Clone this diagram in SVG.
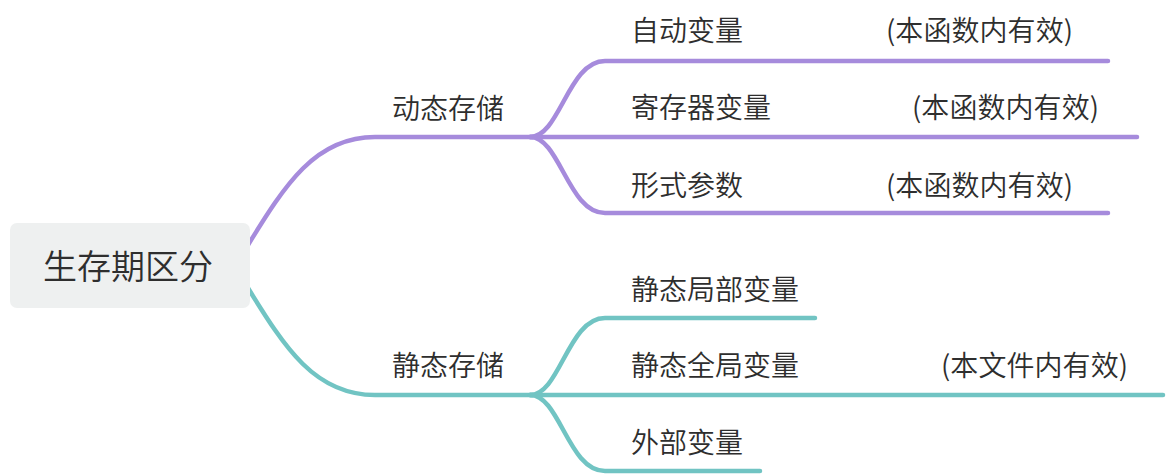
<svg xmlns="http://www.w3.org/2000/svg" width="1172" height="476" viewBox="0 0 1172 476">
<style>
.t{font-family:"Noto Sans CJK SC","Noto Sans",sans-serif;fill:#2e2e2e;font-size:28px;font-weight:350}
.root{font-size:34px}
.p{fill:none;stroke:#a68bdc;stroke-width:4.5;stroke-linecap:round}
.g{fill:none;stroke:#71c4c3;stroke-width:4.5;stroke-linecap:round}
</style>
<rect width="1172" height="476" fill="#ffffff"/>
<g id="connectors">
<path class="p" d="M248,245 C285,185 315,137 375,137 L533,137"/>
<path class="p" d="M530,137 C560,137 568,61 605,61 L1108,61"/>
<path class="p" d="M530,137 L1137,137"/>
<path class="p" d="M530,137 C560,137 568,213 605,213 L1108,213"/>
<path class="g" d="M248,288 C285,348 315,395 375,395 L533,395"/>
<path class="g" d="M530,395 C560,395 568,318 605,318 L815,318"/>
<path class="g" d="M530,395 L1163,395"/>
<path class="g" d="M530,395 C560,395 568,471 605,471 L760,471"/>
</g>
<g id="root">
<rect x="10" y="223" width="240" height="85" rx="7" fill="#eef0f0"/>
<text class="t root" x="128" y="279" text-anchor="middle">生存期区分</text>
</g>
<g id="dynamic"><text class="t" x="392" y="119">动态存储</text></g>
<g id="static"><text class="t" x="392" y="376">静态存储</text></g>
<g id="auto"><text class="t" x="631" y="41">自动变量</text><text class="t" x="886" y="41" textLength="187">(本函数内有效)</text></g>
<g id="register"><text class="t" x="631" y="118">寄存器变量</text><text class="t" x="912" y="118" textLength="187">(本函数内有效)</text></g>
<g id="formal"><text class="t" x="631" y="196">形式参数</text><text class="t" x="886" y="196" textLength="187">(本函数内有效)</text></g>
<g id="staticlocal"><text class="t" x="631" y="300">静态局部变量</text></g>
<g id="staticglobal"><text class="t" x="631" y="376">静态全局变量</text><text class="t" x="941" y="376" textLength="187">(本文件内有效)</text></g>
<g id="extern"><text class="t" x="631" y="453">外部变量</text></g>
</svg>
